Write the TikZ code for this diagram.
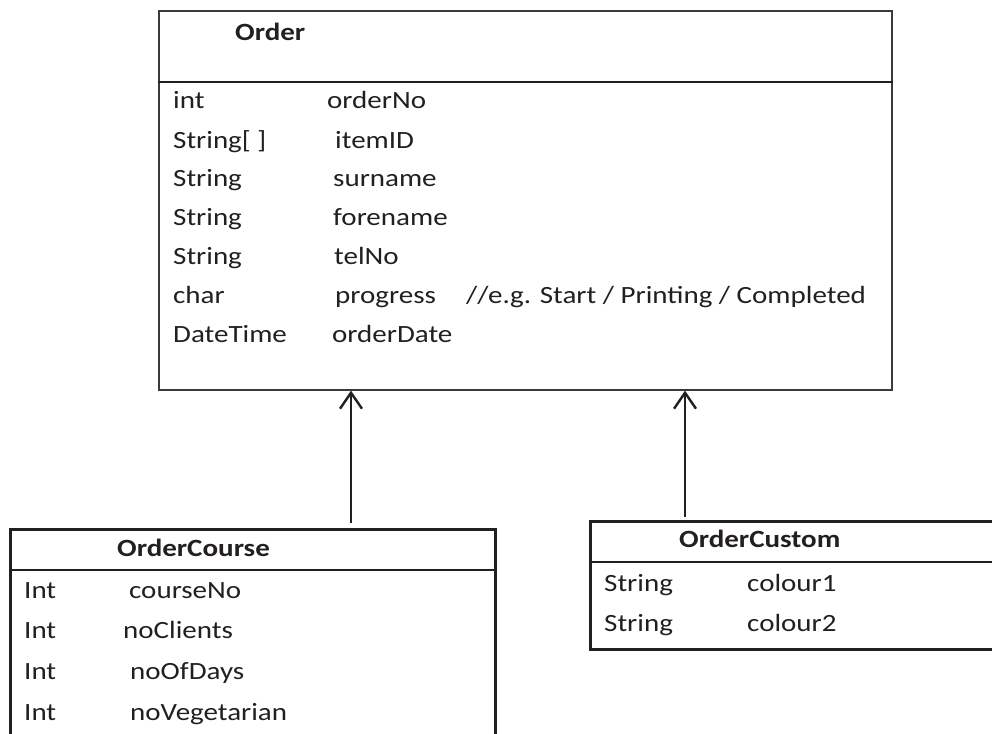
\documentclass[tikz,border=0pt]{standalone}
\usepackage{fontspec}
\usepackage{graphicx}
\setmainfont{Carlito}
\usetikzlibrary{arrows.meta}
\definecolor{ink}{HTML}{231F20}
\definecolor{edge}{HTML}{3A3A3A}
\newcommand{\wx}[1]{\scalebox{1.17}[1]{#1}}
\tikzset{
  txt/.style={anchor=base west, inner sep=0pt, text=ink, font=\fontsize{24.8}{29}\selectfont},
  ttl/.style={txt, font=\fontsize{24.8}{29}\selectfont\bfseries},
  classbox/.style={draw=ink, line width=2.6pt, anchor=north west, inner sep=0pt, fill=none},
  arr/.style={draw=ink, line width=2.9pt, -{Straight Barb[length=16pt,width=22pt,line width=2.4pt]}}
}
\begin{document}
\begin{tikzpicture}[x=1pt,y=-1pt]
\useasboundingbox (0,0) rectangle (992,733);
\clip (0,0) rectangle (992,733);
% Order class
\node[classbox, draw=edge, line width=1.6pt, minimum width=733, minimum height=379] (order) at (158,10) {};
\coordinate (odl) at (158,82);
\draw[ink, line width=2.6pt] (odl) -- (odl -| order.east);
\node[ttl] (ot) at (235,41) {\wx{Order}};
\node[txt] (o1t) at (173,109) {\wx{int}};
\node[txt] (o1n) at (327,109) {\wx{orderNo}};
\node[txt] (o2t) at (173,148) {\wx{String[ ]}};
\node[txt] (o2n) at (335,148) {\wx{itemID}};
\node[txt] (o3t) at (173,186) {\wx{String}};
\node[txt] (o3n) at (333,186) {\wx{surname}};
\node[txt] (o4t) at (173,225) {\wx{String}};
\node[txt] (o4n) at (333,225) {\wx{forename}};
\node[txt] (o5t) at (173,264) {\wx{String}};
\node[txt] (o5n) at (334,264) {\wx{telNo}};
\node[txt] (o6t) at (173,303) {\wx{char}};
\node[txt] (o6n) at (335,303) {\wx{progress}};
\node[txt] (o6m) at (466,303) {\wx{//e.g. Start / Printing / Completed}};
\node[txt] (o7t) at (173,342) {\wx{DateTime}};
\node[txt] (o7n) at (332,342) {\wx{orderDate}};
% OrderCourse class
\node[classbox, minimum width=485, minimum height=260] (course) at (9,528) {};
\coordinate (cdl) at (9,570);
\draw[ink, line width=2.6pt] (cdl) -- (cdl -| course.east);
\node[ttl] (ct) at (117,556) {\wx{OrderCourse}};
\node[txt] (c1t) at (24,598) {\wx{Int}};
\node[txt] (c1n) at (129,598) {\wx{courseNo}};
\node[txt] (c2t) at (24,638) {\wx{Int}};
\node[txt] (c2n) at (123,638) {\wx{noClients}};
\node[txt] (c3t) at (24,679) {\wx{Int}};
\node[txt] (c3n) at (130,679) {\wx{noOfDays}};
\node[txt] (c4t) at (24,720) {\wx{Int}};
\node[txt] (c4n) at (130,720) {\wx{noVegetarian}};
% OrderCustom class
\node[classbox, minimum width=460, minimum height=128] (custom) at (589,520) {};
\coordinate (udl) at (589,562);
\draw[ink, line width=2.6pt] (udl) -- (udl -| custom.east);
\node[ttl] (ut) at (679,547) {\wx{OrderCustom}};
\node[txt] (u1t) at (604,591) {\wx{String}};
\node[txt] (u1n) at (747,591) {\wx{colour1}};
\node[txt] (u2t) at (604,631) {\wx{String}};
\node[txt] (u2n) at (747,631) {\wx{colour2}};
% inheritance arrows
\coordinate (a1) at (351,523);
\coordinate (a2) at (685,517);
\draw[arr] (a1) -- (a1 |- order.south);
\draw[arr] (a2) -- (a2 |- order.south);
\end{tikzpicture}
\end{document}
